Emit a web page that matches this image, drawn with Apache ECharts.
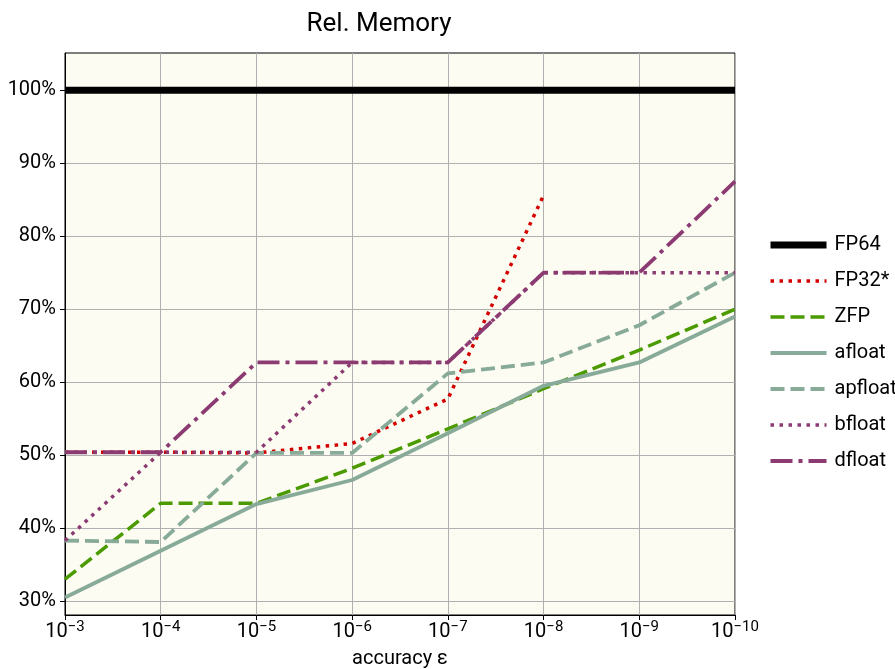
<!DOCTYPE html>
<html>
<head>
<meta charset="utf-8">
<script src="https://cdn.jsdelivr.net/npm/echarts@6/dist/echarts.min.js"></script>
<style>
  html, body { margin: 0; padding: 0; background: #ffffff; }
  #chart { width: 895px; height: 669px; }
</style>
</head>
<body>
<div id="chart"></div>
<script>
// accuracy exponents: 1e-3 ... 1e-10
const exponents = [3, 4, 5, 6, 7, 8, 9, 10];
const yTicks = [30, 40, 50, 60, 70, 80, 90, 100];

// relative memory (%) per format
const fp64    = [100, 100, 100, 100, 100, 100, 100, 100];
const fp32    = [50.4, 50.4, 50.3, 51.6, 57.7, 85.6];
const zfp     = [33.0, 43.4, 43.4, 48.2, 53.6, 59.1, 64.4, 70.0];
const afloat  = [30.5, 36.9, 43.3, 46.6, 53.0, 59.5, 62.7, 69.0];
const apfloat = [38.3, 38.1, 50.3, 50.3, 61.2, 62.7, 67.8, 75.0];
const bfloat  = [38.3, 50.4, 50.4, 62.7, 62.7, 75.0, 75.0, 75.0];
const dfloat  = [50.4, 50.4, 62.7, 62.7, 62.7, 75.0, 75.0, 87.5];

const FONT = "Roboto, sans-serif";

function pairs(vals) {
  return vals.map((v, i) => [exponents[i], v]);
}

function line(name, vals, color, width, type, z) {
  return {
    name: name,
    type: 'line',
    data: pairs(vals),
    symbol: 'none',
    z: z,
    lineStyle: { color: color, width: width, type: type, cap: 'butt' },
    itemStyle: { color: color },
    animation: false
  };
}

const chart = echarts.init(document.getElementById('chart'));
chart.setOption({
  backgroundColor: '#ffffff',
  animation: false,
  title: {
    text: 'Rel. Memory',
    left: 374, top: 6, textAlign: 'center',
    textStyle: { fontFamily: FONT, fontSize: 26, fontWeight: 'normal', color: '#000' }
  },
  grid: {
    left: 65, right: 160, top: 53, bottom: 54,
    outerBoundsMode: 'none',
    containLabel: false,
    show: true, backgroundColor: '#fcfcf2', borderColor: '#000', borderWidth: 1
  },
  legend: {
    orient: 'vertical',
    left: 762, top: 230,
    itemWidth: 56, itemHeight: 14, itemGap: 16,
    itemStyle: { opacity: 0 },
    lineStyle: { width: 'inherit' },
    textStyle: { fontFamily: FONT, fontSize: 20, color: '#000', padding: [0, 0, 0, 3] },
    data: ['FP64', 'FP32*', 'ZFP', 'afloat', 'apfloat', 'bfloat', 'dfloat']
  },
  xAxis: {
    type: 'value', min: 3, max: 10, interval: 1,
    name: 'accuracy ε', nameLocation: 'middle', nameGap: 34,
    nameTextStyle: { fontFamily: FONT, fontSize: 20, color: '#000' },
    axisLine: { show: true, lineStyle: { color: '#000', width: 1 } },
    axisTick: { show: true, length: 5, lineStyle: { color: '#000' } },
    splitLine: { show: true, lineStyle: { color: '#b0b0b0', width: 1 } },
    axisLabel: {
      margin: 5,
      formatter: v => '{b|10}{s|−' + v + '}',
      rich: {
        b: { fontFamily: FONT, fontSize: 20, color: '#000', lineHeight: 22, verticalAlign: 'bottom' },
        s: { fontFamily: FONT, fontSize: 15, color: '#000', lineHeight: 22, verticalAlign: 'top' }
      }
    }
  },
  yAxis: {
    type: 'value', min: 28.1, max: 105.1,
    axisLine: { show: true, lineStyle: { color: '#000', width: 1 } },
    axisTick: { show: true, length: 5, lineStyle: { color: '#000' }, customValues: yTicks },
    splitLine: { show: true, lineStyle: { color: '#b0b0b0', width: 1 } },
    axisLabel: {
      customValues: yTicks,
      margin: 9,
      formatter: v => v + '%',
      fontFamily: FONT, fontSize: 20, color: '#000'
    }
  },
  series: [
    line('FP64', fp64, '#000000', 7, 'solid', 2),
    line('FP32*', fp32, '#d40000', 3.5, [3.5, 5.5], 3),
    line('ZFP', zfp, '#4a9a00', 3.5, [14, 6], 4),
    line('afloat', afloat, '#88aa99', 3.8, 'solid', 5),
    line('apfloat', apfloat, '#88aa99', 3.8, [14, 6], 6),
    line('bfloat', bfloat, '#8c3a72', 3.5, [3.5, 5.5], 7),
    line('dfloat', dfloat, '#8c3a72', 3.8, [22, 6, 4, 6], 8)
  ]
});
</script>
</body>
</html>
